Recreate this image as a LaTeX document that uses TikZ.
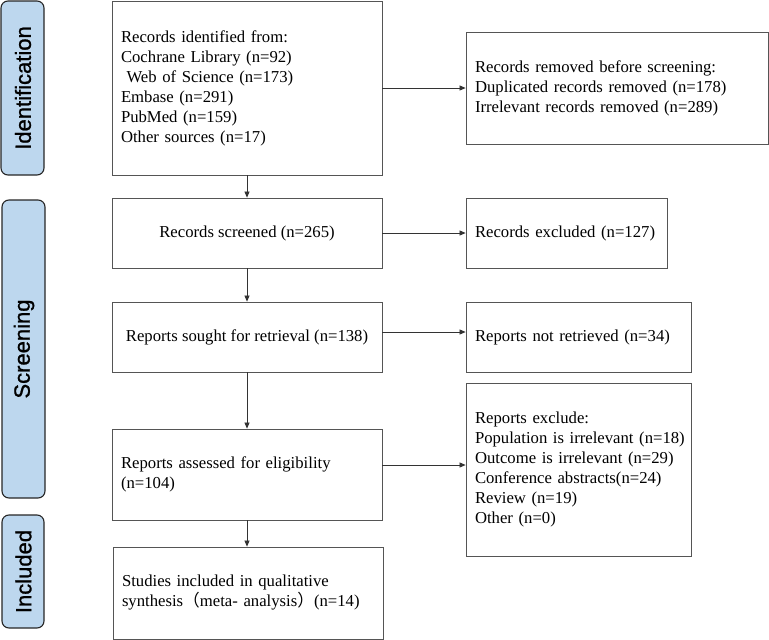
\documentclass[tikz,border=0pt]{standalone}
\usepackage{fontspec}
\setmainfont{Liberation Serif}
\newfontfamily\sidefont[FakeBold=1]{Liberation Sans}
\newfontfamily\cjk{Noto Sans CJK SC}
\usetikzlibrary{arrows.meta}
\definecolor{sideblue}{HTML}{BDD7EE}
\definecolor{boxline}{HTML}{555555}
\tikzset{
  box/.style={draw=boxline, line width=0.8pt, inner sep=0pt, font=\fontsize{16.7}{20}\selectfont},
  lbox/.style={box, align=left},
  cbox/.style={box, align=center},
  sidebar/.style={draw=black!85, fill=sideblue, rounded corners=7pt, line width=1.1pt},
  sidelabel/.style={font=\sidefont\fontsize{22}{22}\selectfont, rotate=90},
  arr/.style={draw=black!80, line width=0.7pt, -{Triangle[length=6pt,width=5pt]}}
}
\begin{document}
\begin{tikzpicture}[x=1pt,y=-1pt]
\useasboundingbox (0,0) rectangle (769,640);
% side bars
\draw[sidebar] (1,1) rectangle (44,175);
\node[sidelabel] (lid) at (23,88) {Identification};
\draw[sidebar] (2,200) rectangle (45,498);
\node[sidelabel] (lsc) at (24,349) {Screening};
\draw[sidebar] (2,515) rectangle (44,628);
\node[sidelabel] (lin) at (23.5,571.5) {Included};
% boxes
\node[lbox, minimum width=270pt, minimum height=174pt, text width=252pt] (ident) at (247,88)
 {Records identified from:\\Cochrane Library (n=92)\\\ Web of Science (n=173)\\Embase (n=291)\\PubMed (n=159)\\Other sources (n=17)};
\node[lbox, minimum width=302pt, minimum height=112pt, text width=284pt] (removed) at (617,88)
 {Records removed before screening:\\Duplicated records removed (n=178)\\Irrelevant records removed (n=289)};
\node[cbox, minimum width=270pt, minimum height=70pt] (screened) at (247,233)
 {Records screened (n=265)};
\node[lbox, minimum width=201pt, minimum height=70pt, text width=183pt] (excluded) at (566.5,233)
 {Records excluded (n=127)};
\node[cbox, minimum width=270pt, minimum height=70pt] (sought) at (247,337)
 {Reports sought for retrieval (n=138)};
\node[lbox, minimum width=225pt, minimum height=70pt, text width=207pt] (notret) at (578.5,337)
 {Reports not retrieved (n=34)};
\node[lbox, minimum width=225pt, minimum height=173pt, text width=207pt] (excl) at (578.5,469.5)
 {Reports exclude:\\\mbox{Population is irrelevant (n=18)}\\Outcome is irrelevant (n=29)\\Conference abstracts(n=24)\\Review (n=19)\\Other (n=0)};
\node[lbox, minimum width=270pt, minimum height=91pt, text width=252pt] (assessed) at (247,474.5)
 {Reports assessed for eligibility\\(n=104)};
\node[lbox, minimum width=270pt, minimum height=92pt, text width=252pt] (studies) at (248,593)
 {Studies included in qualitative\\synthesis{\cjk （}meta- analysis{\cjk ）}(n=14)};
% vertical arrows
\draw[arr] (ident.south) -- (screened.north);
\draw[arr] (screened.south) -- (sought.north);
\draw[arr] (sought.south) -- (assessed.north);
\draw[arr] (assessed.south) -- (assessed.south |- studies.north);
% horizontal arrows
\draw[arr] (ident.east) -- (removed.west);
\draw[arr] (screened.east) -- (excluded.west);
\draw[arr] ([yshift=5pt]sought.east) coordinate (s1) -- (s1 -| notret.west);
\draw[arr] ([yshift=9.5pt]assessed.east) coordinate (a1) -- (a1 -| excl.west);
\end{tikzpicture}
\end{document}
